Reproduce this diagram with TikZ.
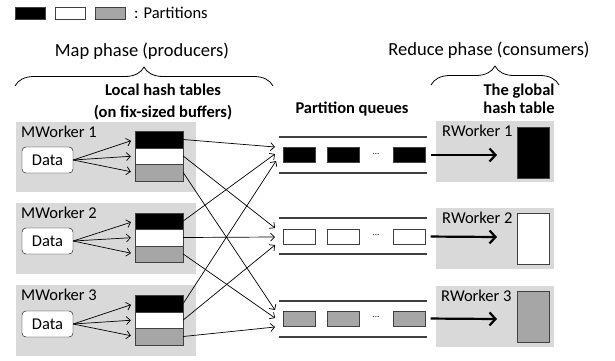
\documentclass[tikz,border=0pt]{standalone}
\usepackage{fontspec}
\setmainfont{Carlito}
\usepackage{tikz}
\usetikzlibrary{arrows.meta,decorations.pathreplacing}

\definecolor{boxgray}{HTML}{D9D9D9}
\definecolor{partgray}{HTML}{A6A6A6}
\definecolor{edgegray}{HTML}{404040}

\begin{document}
\begin{tikzpicture}[x=1pt, y=-1pt, font=\fontsize{16.5}{20}\selectfont]

\tikzstyle{worker_box} = [rectangle, fill=boxgray, inner sep=0pt]
\tikzstyle{data_box} = [rectangle, draw=black, fill=white, rounded corners=4pt, minimum width=51pt, minimum height=26pt, inner sep=0pt]
\tikzstyle{cell} = [rectangle, draw=edgegray, minimum width=48pt, minimum height=16.5pt, inner sep=0pt]
\tikzstyle{qblock} = [rectangle, draw=edgegray, minimum width=32pt, minimum height=15pt, inner sep=0pt]
\tikzstyle{gtable} = [rectangle, draw=edgegray, minimum width=32pt, minimum height=51pt, inner sep=0pt]
\tikzstyle{legend_box} = [rectangle, draw=edgegray, minimum width=30pt, minimum height=12pt, inner sep=0pt]
\tikzstyle{queue_line} = [draw=edgegray, line width=1.3pt]
\tikzstyle{thin_arrow} = [-{Straight Barb[length=4pt,width=8pt]}, line width=0.7pt]
\tikzstyle{thick_arrow} = [-{Straight Barb[length=6pt,width=13pt]}, line width=2.2pt]
\tikzstyle{brace_line} = [decorate, line width=0.8pt]
\tikzstyle{header} = [font=\fontsize{18.5}{22}\selectfont, inner sep=0pt, anchor=base]
\tikzstyle{label_bold} = [font=\fontsize{16.5}{20}\selectfont\bfseries, inner sep=0pt, align=center]

\useasboundingbox (0,0) rectangle (615,360);

%------------------------------------------------------------
	\node[legend_box, fill=black] (leg1) at (30.5,13) {};
	\node[legend_box, fill=white] (leg2) at (70.5,13) {};
	\node[legend_box, fill=partgray] (leg3) at (110.5,13) {};
	\node[anchor=base west, inner sep=0pt] (legtxt) at (134,18.5) {: Partitions};

%------------------------------------------------------------
	\node[header] (maphdr) at (142,56) {Map phase (producers)};
	\node[header] (redhdr) at (489,55) {Reduce phase (consumers)};
	\draw[brace_line, decoration={brace, amplitude=19pt}] (15,86) -- (273,86);
	\draw[brace_line, decoration={brace, amplitude=19pt}] (431,85) -- (559,85);

	\node[label_bold, font=\fontsize{16.5}{22}\selectfont\bfseries] (localtxt) at (163,102) {Local hash tables\\(on fix-sized buffers)};
	\node[label_bold, anchor=base] (queuetxt) at (352,113) {Partition queues};
	\node[label_bold, font=\fontsize{16.5}{17.5}\selectfont\bfseries] (globaltxt) at (519,99) {The global\\hash table};

%------------------------------------------------------------
	\node[worker_box, minimum width=180pt, minimum height=70pt] (mw1) at (106,157) {};
	\node[worker_box, minimum width=180pt, minimum height=71pt] (mw2) at (106,238.5) {};
	\node[worker_box, minimum width=180pt, minimum height=71pt] (mw3) at (106,320.5) {};

	\node[anchor=base west, inner sep=0pt] (mw1lbl) at (21,137) {MWorker 1};
	\node[anchor=base west, inner sep=0pt] (mw2lbl) at (21,218) {MWorker 2};
	\node[anchor=base west, inner sep=0pt] (mw3lbl) at (21,300) {MWorker 3};

	\node[data_box] (d1) at (47.5,160) {Data};
	\node[data_box] (d2) at (47.5,241) {Data};
	\node[data_box] (d3) at (47.5,324) {Data};

	\node[cell, fill=black] (t1a) at (159,139.5) {};
	\node[cell, fill=white] (t1b) at (159,156) {};
	\node[cell, fill=partgray] (t1c) at (159,172.5) {};

	\node[cell, fill=black] (t2a) at (159,221) {};
	\node[cell, fill=white] (t2b) at (159,237.5) {};
	\node[cell, fill=partgray] (t2c) at (159,254) {};

	\node[cell, fill=black] (t3a) at (159,303.5) {};
	\node[cell, fill=white] (t3b) at (159,320) {};
	\node[cell, fill=partgray] (t3c) at (159,336.5) {};

%------------------------------------------------------------
	\draw[queue_line] (279,137) -- (427,137);
	\draw[queue_line] (279,173) -- (427,173);
	\draw[queue_line] (279,218) -- (427,218);
	\draw[queue_line] (279,254) -- (427,254);
	\draw[queue_line] (279,301) -- (427,301);
	\draw[queue_line] (279,337) -- (427,337);

	\node[qblock, fill=black] (q1a) at (299,155) {};
	\node[qblock, fill=black] (q1b) at (343,155) {};
	\node[qblock, fill=black] (q1c) at (409.5,155) {};
	\node[font=\fontsize{9}{9}\selectfont] (q1dots) at (376,154) {...};

	\node[qblock, fill=white] (q2a) at (299,236.5) {};
	\node[qblock, fill=white] (q2b) at (343,236.5) {};
	\node[qblock, fill=white] (q2c) at (409.5,236.5) {};
	\node[font=\fontsize{9}{9}\selectfont] (q2dots) at (376,235.5) {...};

	\node[qblock, fill=partgray] (q3a) at (299,318.5) {};
	\node[qblock, fill=partgray] (q3b) at (343,318.5) {};
	\node[qblock, fill=partgray] (q3c) at (409.5,318.5) {};
	\node[font=\fontsize{9}{9}\selectfont] (q3dots) at (376,317.5) {...};

	\coordinate (qin11) at (275,147);
	\coordinate (qin12) at (275,154);
	\coordinate (qin13) at (276,161);
	\coordinate (qin21) at (275,228);
	\coordinate (qin22) at (275,237);
	\coordinate (qin23) at (275,245);
	\coordinate (qin31) at (275,310);
	\coordinate (qin32) at (275,318);
	\coordinate (qin33) at (275,327);

%------------------------------------------------------------
	\node[worker_box, minimum width=118pt, minimum height=61pt] (rw1) at (495,151.5) {};
	\node[worker_box, minimum width=118pt, minimum height=61pt] (rw2) at (495,238.5) {};
	\node[worker_box, minimum width=118pt, minimum height=61pt] (rw3) at (495,316.5) {};

	\node[anchor=base west, inner sep=0pt] (rw1lbl) at (442,136) {RWorker 1};
	\node[anchor=base west, inner sep=0pt] (rw2lbl) at (442,223) {RWorker 2};
	\node[anchor=base west, inner sep=0pt] (rw3lbl) at (441,301) {RWorker 3};

	\node[gtable, fill=black] (g1) at (533,152.5) {};
	\node[gtable, fill=white] (g2) at (533,239) {};
	\node[gtable, fill=partgray] (g3) at (533,316.5) {};

	\coordinate (rin1) at (497,155);
	\coordinate (rin2) at (497,237);
	\coordinate (rin3) at (497,319);

%------------------------------------------------------------
	\draw[thin_arrow, shorten >=4pt] (d1.east) -- (t1a.west);
	\draw[thin_arrow, shorten >=4pt] (d1.east) -- (t1b.west);
	\draw[thin_arrow, shorten >=4pt] (d1.east) -- (t1c.west);
	\draw[thin_arrow, shorten >=4pt] (d2.east) -- (t2a.west);
	\draw[thin_arrow, shorten >=4pt] (d2.east) -- (t2b.west);
	\draw[thin_arrow, shorten >=4pt] (d2.east) -- (t2c.west);
	\draw[thin_arrow, shorten >=4pt] (d3.east) -- (t3a.west);
	\draw[thin_arrow, shorten >=4pt] (d3.east) -- (t3b.west);
	\draw[thin_arrow, shorten >=4pt] (d3.east) -- (t3c.west);

	\draw[thin_arrow] (t1a.east) -- (qin11);
	\draw[thin_arrow] (t2a.east) -- (qin12);
	\draw[thin_arrow] (t3a.east) -- (qin13);
	\draw[thin_arrow] (t1b.east) -- (qin21);
	\draw[thin_arrow] (t2b.east) -- (qin22);
	\draw[thin_arrow] (t3b.east) -- (qin23);
	\draw[thin_arrow] (t1c.east) -- (qin31);
	\draw[thin_arrow] (t2c.east) -- (qin32);
	\draw[thin_arrow] (t3c.east) -- (qin33);

	\draw[thick_arrow, shorten <=5pt] (q1c.east) -- (rin1);
	\draw[thick_arrow, shorten <=5pt] (q2c.east) -- (rin2);
	\draw[thick_arrow, shorten <=5pt] (q3c.east) -- (rin3);

\end{tikzpicture}
\end{document}
